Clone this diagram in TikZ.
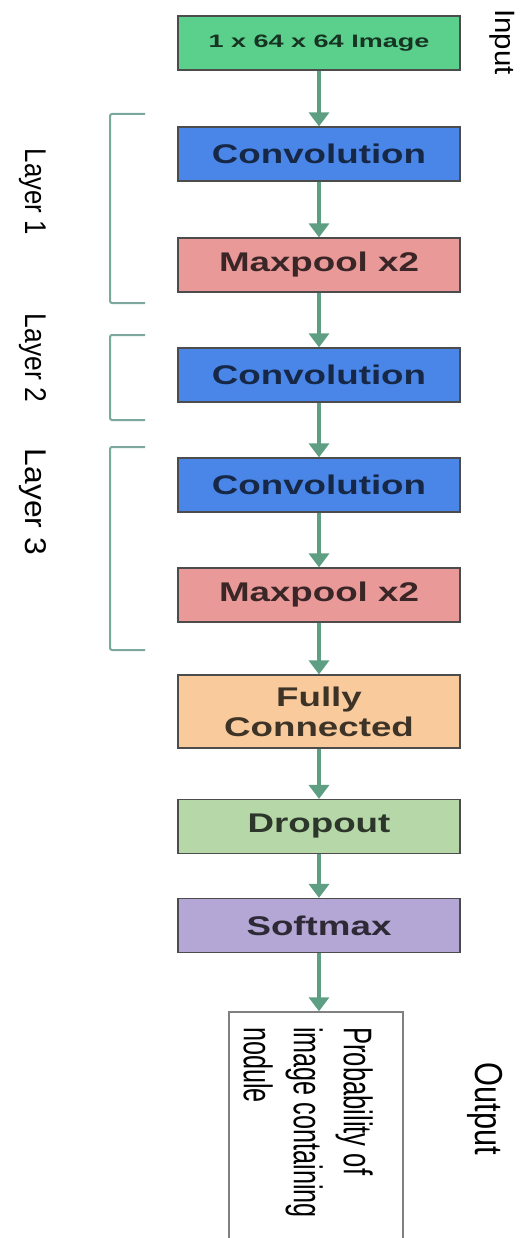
\documentclass[tikz,border=0pt]{standalone}
\usepackage{fontspec}
\setmainfont{Liberation Sans}
\usetikzlibrary{arrows.meta}

\definecolor{inpgreen}{HTML}{5BD08C}
\definecolor{convblue}{HTML}{4A86E8}
\definecolor{poolred}{HTML}{EA9999}
\definecolor{fcorange}{HTML}{F9CB9C}
\definecolor{dropgreen}{HTML}{B6D7A8}
\definecolor{softpurple}{HTML}{B4A7D6}
\definecolor{flowgreen}{HTML}{5E9F84}
\definecolor{brkgreen}{HTML}{7AA89C}

% box text is set wide, as in the drawing
\newcommand{\wide}[1]{\scalebox{1.36}[1]{#1}}

\tikzset{
	blk/.style={draw=black!70, line width=1.2pt, minimum width=282pt, minimum height=54pt,
		inner sep=0pt, align=center, font=\bfseries\fontsize{27}{30}\selectfont},
	flow/.style={draw=flowgreen, line width=3.5pt, -{Triangle[width=20pt,length=14pt]}},
	brk/.style={draw=brkgreen, line width=2pt, rounded corners=2pt},
	side/.style={rotate=-90, anchor=base, inner sep=0pt}
}

\begin{document}
\begin{tikzpicture}[x=1pt, y=-1pt]
	\useasboundingbox (0, 0) rectangle (521, 1238);

	% the network, top to bottom
	\node [blk, fill=inpgreen, text=inpgreen!25!black, font=\bfseries\fontsize{18}{20}\selectfont] (inp) at (319, 43) {\scalebox{1.5}[1]{1 x 64 x 64 Image}};
	\node [blk, fill=convblue, text=convblue!30!black] (conv1) at (319, 154) {\wide{Convolution}};
	\node [blk, fill=poolred, text=poolred!25!black] (pool1) at (319, 265) {\wide{Maxpool x2}};
	\node [blk, fill=convblue, text=convblue!30!black] (conv2) at (319, 375) {\wide{Convolution}};
	\node [blk, fill=convblue, text=convblue!30!black] (conv3) at (319, 485) {\wide{Convolution}};
	\node [blk, fill=poolred, text=poolred!25!black] (pool2) at (319, 595) {\wide{Maxpool x2}};
	\node [blk, fill=fcorange, text=fcorange!25!black, minimum height=73pt] (fc) at (319, 711.5) {\wide{Fully}\\\wide{Connected}};
	\node [blk, fill=dropgreen, text=dropgreen!25!black] (drop) at (319, 826.5) {\wide{Dropout}};
	\node [blk, fill=softpurple, text=softpurple!25!black] (soft) at (319, 925.5) {\wide{Softmax}};
	\node [draw=black!50, line width=1.5pt, minimum width=174pt, minimum height=234pt, inner sep=0pt] (out) at (316, 1129) {};
	\node [rotate=-90, anchor=north west, align=left, inner sep=0pt, font=\fontsize{40}{50}\selectfont] (prob) at (373, 1027)
		{\scalebox{0.64}[1]{Probability of}\\\scalebox{0.63}[1]{image containing}\\\scalebox{0.63}[1]{nodule}};

	\foreach \a/\b in {inp/conv1, conv1/pool1, pool1/conv2, conv2/conv3, conv3/pool2, pool2/fc, fc/drop, drop/soft} {
		\draw [flow] (\a.south) -- (\b.north);
	}
	\draw [flow] (soft.south) -- (soft.south |- out.north);

	% side labels
	\node [side, font=\fontsize{28}{30}\selectfont] (inlab) at (495, 42) {\scalebox{1.05}[1]{Input}};
	\node [side, font=\fontsize{30}{32}\selectfont] (lay1) at (25, 192) {\scalebox{0.86}[1]{Layer 1}};
	\node [side, font=\fontsize{30}{32}\selectfont] (lay2) at (25, 358) {\scalebox{0.88}[1]{Layer 2}};
	\node [side, font=\fontsize{30}{32}\selectfont] (lay3) at (25, 502) {\scalebox{1.06}[1]{Layer 3}};
	\node [side, font=\fontsize{39}{41}\selectfont] (outlab) at (475, 1109) {\scalebox{0.79}[1]{Output}};

	% brackets round the layers
	\draw [brk] (145, 114) -| (110, 303) -- (145, 303);
	\draw [brk] (145, 335) -| (110, 420) -- (145, 420);
	\draw [brk] (145, 447) -| (110, 650) -- (145, 650);
\end{tikzpicture}
\end{document}
